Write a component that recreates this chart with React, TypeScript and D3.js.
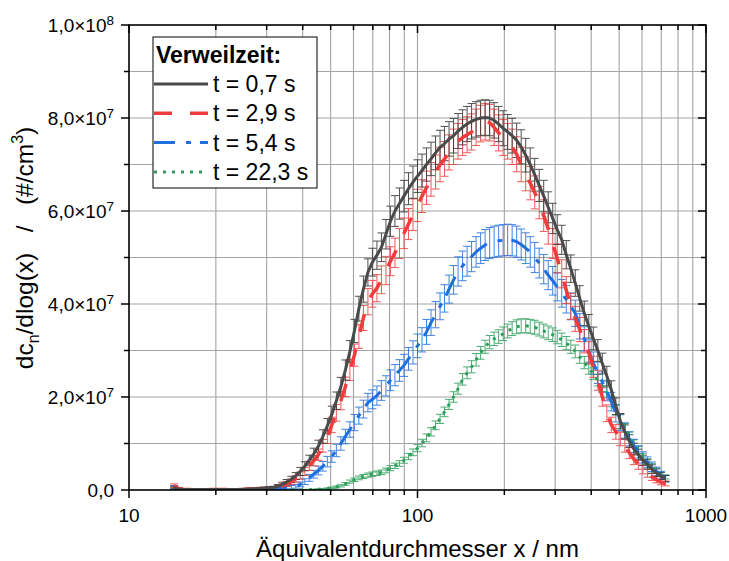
import React from 'react';
import * as d3 from 'd3';

// Equivalent diameter channels (nm)
const diameters = [
  14.33, 14.86, 15.40, 15.96, 16.55, 17.15, 17.78, 18.43, 19.11, 19.81,
  20.54, 21.29, 22.07, 22.88, 23.71, 24.58, 25.48, 26.42, 27.38, 28.39,
  29.43, 30.51, 31.62, 32.78, 33.98, 35.22, 36.52, 37.85, 39.24, 40.68,
  42.17, 43.71, 45.32, 46.98, 48.70, 50.48, 52.33, 54.25, 56.23, 58.30,
  60.43, 62.64, 64.94, 67.32, 69.78, 72.34, 74.99, 77.74, 80.58, 83.54,
  86.60, 89.77, 93.06, 96.47, 100.0, 103.66, 107.46, 111.40, 115.48, 119.71,
  124.09, 128.64, 133.35, 138.24, 143.30, 148.55, 153.99, 159.64, 165.48, 171.55,
  177.83, 184.35, 191.10, 198.10, 205.35, 212.87, 220.67, 228.76, 237.14, 245.82,
  254.83, 264.17, 273.84, 283.87, 294.27, 305.05, 316.23, 327.81, 339.82, 352.27,
  365.17, 378.55, 392.42, 406.79, 421.70, 437.14, 453.16, 469.76, 486.97, 504.81,
  523.30, 542.47, 562.34, 582.94, 604.30, 626.44, 649.38, 673.17, 697.83, 723.39,
];

// values in units of 1e5 #/cm³
const UNIT = 1e5;

const t07 = [
  5, 2, 1, 1, 1, 1, 1, 1, 1, 1,
  1, 1, 1, 1, 1, 1.5, 1.5, 2, 2.5, 3,
  3.5, 4, 5, 8, 12, 17, 23, 30, 40, 51,
  64, 78, 94, 115, 138, 163, 192, 222, 258, 298,
  342, 390, 432, 468, 490, 505, 522, 550, 578, 600,
  616, 632, 648, 662, 675, 687, 700, 712, 725, 737,
  745, 755, 762, 772, 780, 787, 793, 797, 800, 801,
  800, 795, 787, 778, 770, 762, 752, 738, 720, 700,
  678, 655, 632, 608, 584, 560, 538, 506, 476, 445,
  412, 380, 352, 326, 300, 272, 245, 215, 180, 148,
  125, 105, 88, 76, 64, 55, 45, 37, 30, 25,
];

const t29 = [
  9, 3, 1.5, 1, 1, 1, 1, 1, 1, 1,
  1, 1, 1, 1, 1.5, 1.5, 2, 2, 2.5, 3,
  3.5, 4, 4, 6, 9, 13, 18, 24, 31, 40,
  52, 63, 76, 95, 115, 140, 166, 192, 222, 258,
  290, 330, 370, 405, 422, 434, 452, 472, 492, 510,
  530, 552, 572, 592, 612, 632, 650, 668, 684, 700,
  712, 726, 738, 750, 758, 764, 770, 780, 788, 792,
  790, 780, 768, 758, 750, 738, 722, 700, 680, 660,
  640, 618, 590, 562, 530, 498, 465, 430, 395, 368,
  345, 320, 295, 265, 236, 200, 165, 140, 125, 110,
  95, 80, 66, 55, 44, 36, 28, 22, 17, 14,
];

const t54 = [
  6, 2, 1, 1, 0.5, 0.5, 0.5, 0.5, 0.5, 0.5,
  0.5, 0.5, 0.5, 0.5, 0.5, 0.5, 0.5, 0.5, 1, 1,
  1, 1.5, 2, 3, 4, 5, 6, 8, 12, 18,
  26, 34, 42, 51, 61, 72, 85, 100, 115, 130,
  145, 160, 174, 188, 195, 203, 214, 224, 236, 247,
  257, 268, 282, 296, 310, 323, 340, 360, 377, 395,
  412, 432, 452, 470, 482, 492, 502, 512, 520, 527,
  531, 534, 536, 537, 538, 537, 534, 528, 520, 512,
  500, 488, 475, 462, 450, 437, 423, 410, 395, 380,
  352, 325, 298, 273, 252, 232, 213, 190, 165, 145,
  128, 110, 95, 82, 70, 60, 50, 40, 32, 24,
];

const t223 = [
  4, 1.5, 1, 0.5, 0.5, 0.5, 0.5, 0.5, 0.5, 0.5,
  0.5, 0.5, 0.5, 0.5, 0.5, 0.5, 0.5, 0.5, 0.5, 0.5,
  0.5, 0.5, 0.5, 0.5, 0.5, 0.5, 0.5, 0.5, 0.5, 0.5,
  0.7, 1, 1.5, 2, 3, 4.5, 6.5, 9, 13, 18,
  22, 26, 29, 32, 34, 36, 38, 42, 47, 52,
  57, 64, 72, 81, 90, 101, 112, 125, 139, 153,
  168, 184, 200, 218, 238, 252, 265, 280, 295, 308,
  318, 325, 330, 336, 342, 347, 351, 353, 353, 352,
  350, 346, 342, 338, 334, 329, 323, 316, 308, 298,
  286, 274, 262, 250, 236, 224, 210, 190, 172, 152,
  134, 116, 100, 86, 72, 61, 51, 42, 34, 28,
];

// uncertainty coefficient per series (err = coef * sqrt(value), in 1e5 units)
const errCoef = [1.35, 1.4, 1.45, 0.8];

const legendTitle = 'Verweilzeit:';
const seriesLabels = ['t = 0,7 s', 't = 2,9 s', 't = 5,4 s', 't = 22,3 s'];
const seriesValues = [t07, t29, t54, t223];
const seriesColors = ['#4a4a4a', '#f03c3c', '#1f6fdc', '#2e9e5b'];
const errColors = ['#333333', '#f03c3c', '#1f6fdc', '#2e9e5b'];
const seriesDash = ['none', '18 18', '21 11 5 9', '3 6'];
const seriesWidth = [3, 3.5, 3, 3];

const xMajorTicks = [10, 100, 1000];
const xMinorTicks = [20, 30, 40, 50, 60, 70, 80, 90, 200, 300, 400, 500, 600, 700, 800, 900];
const yMajorTicks = [0, 2e7, 4e7, 6e7, 8e7, 1e8];
const yMinorTicks = [1e7, 3e7, 5e7, 7e7, 9e7];

const W = 729, H = 561;
const L = 129, R = 706, T = 25, B = 490;
const FONT = 'Liberation Sans, Arial, Helvetica, sans-serif';

function yLabel(v: number) {
  if (v === 0) return { main: '0,0', exp: '' };
  const e = Math.floor(Math.log10(v) + 1e-9);
  const m = v / Math.pow(10, e);
  return { main: m.toFixed(1).replace('.', ',') + '×10', exp: String(e) };
}

export default function App() {
  const x = d3.scaleLog().domain([10, 1000]).range([L, R]);
  const y = d3.scaleLinear().domain([0, 1e8]).range([B, T]);
  const line = d3.line<[number, number]>().x(d => x(d[0])).y(d => y(d[1]));

  const order = [3, 2, 1, 0];

  return (
    <svg width={W} height={H} style={{ position: 'absolute', left: 0, top: 0, background: '#fff' }}
      fontFamily={FONT}>
      <defs>
        <clipPath id="plotclip"><rect x={L} y={T} width={R - L} height={B - T} /></clipPath>
      </defs>
      <rect x={0} y={0} width={W} height={H} fill="#fff" />
      {/* grid */}
      <g stroke="#a3a3a3" strokeWidth={1.1}>
        {[...xMinorTicks, 100].map(t => (
          <line key={'gx' + t} x1={x(t)} x2={x(t)} y1={T} y2={B} />
        ))}
        {[...yMinorTicks, ...yMajorTicks.filter(t => t > 0 && t < 1e8)].map(t => (
          <line key={'gy' + t} x1={L} x2={R} y1={y(t)} y2={y(t)} />
        ))}
      </g>
      {/* error bars */}
      <g clipPath="url(#plotclip)">
        {order.map(si => {
          const vals = seriesValues[si];
          return (
            <g key={'e' + si} stroke={errColors[si]} strokeWidth={1} opacity={0.85}>
              {vals.map((v, i) => {
                const e = errCoef[si] * Math.sqrt(v);
                const px = x(diameters[i]);
                const y1 = y((v + e) * UNIT), y2 = y((v - e) * UNIT);
                return (
                  <g key={i}>
                    <line x1={px} x2={px} y1={y1} y2={y2} />
                    <line x1={px - 4} x2={px + 4} y1={y1} y2={y1} />
                    <line x1={px - 4} x2={px + 4} y1={y2} y2={y2} />
                  </g>
                );
              })}
            </g>
          );
        })}
        {order.map(si => (
          <path key={'l' + si}
            d={line(seriesValues[si].map((v, i) => [diameters[i], v * UNIT] as [number, number])) || ''}
            fill="none" stroke={seriesColors[si]} strokeWidth={seriesWidth[si]}
            strokeDasharray={seriesDash[si]} strokeLinejoin="round" />
        ))}
      </g>
      {/* frame */}
      <rect x={L} y={T} width={R - L} height={B - T} fill="none" stroke="#000" strokeWidth={1.6} />
      {/* ticks */}
      <g stroke="#000" strokeWidth={1.5}>
        {yMajorTicks.map(t => (
          <g key={'ym' + t}>
            <line x1={L - 8} x2={L} y1={y(t)} y2={y(t)} />
            <line x1={R - 8} x2={R} y1={y(t)} y2={y(t)} />
          </g>
        ))}
        {yMinorTicks.map(t => (
          <g key={'yn' + t}>
            <line x1={L - 5} x2={L} y1={y(t)} y2={y(t)} />
            <line x1={R - 5} x2={R} y1={y(t)} y2={y(t)} />
          </g>
        ))}
        {xMajorTicks.map(t => (
          <g key={'xm' + t}>
            <line x1={x(t)} x2={x(t)} y1={B} y2={B + 8} />
            <line x1={x(t)} x2={x(t)} y1={T} y2={T + 8} />
          </g>
        ))}
        {xMinorTicks.map(t => (
          <g key={'xn' + t}>
            <line x1={x(t)} x2={x(t)} y1={B} y2={B + 5} />
            <line x1={x(t)} x2={x(t)} y1={T} y2={T + 5} />
          </g>
        ))}
      </g>
      {/* tick labels */}
      <g fontSize={19} fill="#000">
        {yMajorTicks.map(t => {
          const lb = yLabel(t);
          return (
            <text key={'yl' + t} x={114} y={y(t) + 7} textAnchor="end">
              {lb.main}
              {lb.exp && <tspan fontSize={13.5} dy={-7}>{lb.exp}</tspan>}
            </text>
          );
        })}
        {xMajorTicks.map(t => (
          <text key={'xl' + t} x={x(t)} y={522} textAnchor="middle">{t}</text>
        ))}
      </g>
      {/* axis titles */}
      <text x={(L + R) / 2} y={557} textAnchor="middle" fontSize={24}>Äquivalentdurchmesser x / nm</text>
      <text transform={`translate(33,248) rotate(-90)`} textAnchor="middle" fontSize={24.5}
        style={{ whiteSpace: 'pre' }}>
        dc<tspan fontSize={16} dy={6}>n</tspan><tspan dy={-6}>{'/dlog(x)   /   (#/cm'}</tspan>
        <tspan fontSize={16} dy={-10}>3</tspan><tspan dy={10}>)</tspan>
      </text>
      {/* legend */}
      <rect x={153} y={37} width={164} height={151} fill="#fff" stroke="#000" strokeWidth={1} />
      <text x={156} y={63} fontSize={23} fontWeight="bold">{legendTitle}</text>
      {seriesLabels.map((lab, i) => {
        const ly = 84 + i * 29.3;
        return (
          <g key={'lg' + i}>
            <line x1={154} x2={208} y1={ly} y2={ly} stroke={seriesColors[i]} strokeWidth={seriesWidth[i]}
              strokeDasharray={seriesDash[i]} />
            <text x={213} y={ly + 8} fontSize={23}>{lab}</text>
          </g>
        );
      })}
    </svg>
  );
}
